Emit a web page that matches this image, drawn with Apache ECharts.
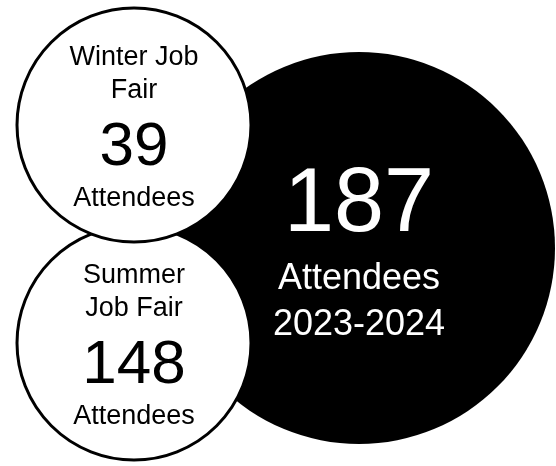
<!DOCTYPE html>
<html>
<head>
<meta charset="utf-8">
<script src="https://cdn.jsdelivr.net/npm/echarts@6/dist/echarts.min.js"></script>
<style>
html,body{margin:0;padding:0;background:#fff;}
#chart{width:556px;height:466px;}
</style>
</head>
<body>
<div id="chart"></div>
<script>
// 数据
const fairNames = ['Winter Job\nFair', 'Summer\nJob Fair'];
const fairAttendees = [39, 148];
const totalAttendees = [187];
const totalPeriod = ['2023-2024'];
const unitLabel = 'Attendees';

const chart = echarts.init(document.getElementById('chart'));

// 小圆的文字样式
const smallRich = {
    t: {fontSize: 27, lineHeight: 33, color: '#000', fontFamily: 'Liberation Sans'},
    n: {fontSize: 62, lineHeight: 81, color: '#000', fontFamily: 'Liberation Sans'},
    a: {fontSize: 27, lineHeight: 20, color: '#000', fontFamily: 'Liberation Sans'}
};

function smallCircle(i, center, z) {
    return {
        type: 'pie',
        z: z,
        silent: true,
        center: center,
        radius: [0, 117],
        startAngle: 90,
        label: {
            show: true,
            position: 'center',
            formatter: p => {
                let lines = p.name.split('\n').map(s => '{t|' + s + '}');
                return lines.join('\n') + '\n{n|' + p.value + '}\n{a|' + unitLabel + '}';
            },
            rich: smallRich
        },
        labelLine: {show: false},
        itemStyle: {color: '#fff', borderColor: '#000', borderWidth: 3},
        emphasis: {disabled: true},
        data: [{name: fairNames[i], value: fairAttendees[i]}]
    };
}

let option = {
    animation: false,
    backgroundColor: '#fff',
    series: [
        {
            type: 'pie',
            z: 1,
            silent: true,
            center: [359, 248],
            radius: [0, 196],
            label: {
                show: true,
                position: 'center',
                //顶部空行用来把文字往下推一点
                formatter: p => '{e| }\n{n|' + p.value + '}\n{a|' + unitLabel + '}\n{y|' + p.name + '}',
                rich: {
                    e: {fontSize: 4, lineHeight: 8, color: '#000'},
                    n: {fontSize: 90, lineHeight: 101, color: '#fff', fontFamily: 'Liberation Sans'},
                    a: {fontSize: 36, lineHeight: 46, color: '#fff', fontFamily: 'Liberation Sans'},
                    y: {fontSize: 36, lineHeight: 46, color: '#fff', fontFamily: 'Liberation Sans'}
                }
            },
            labelLine: {show: false},
            itemStyle: {color: '#000', borderWidth: 0},
            emphasis: {disabled: true},
            data: [{name: totalPeriod[0], value: totalAttendees[0]}]
        },
        smallCircle(1, [134, 343], 2),
        smallCircle(0, [134, 125], 3)
    ]
};
chart.setOption(option);
</script>
</body>
</html>
